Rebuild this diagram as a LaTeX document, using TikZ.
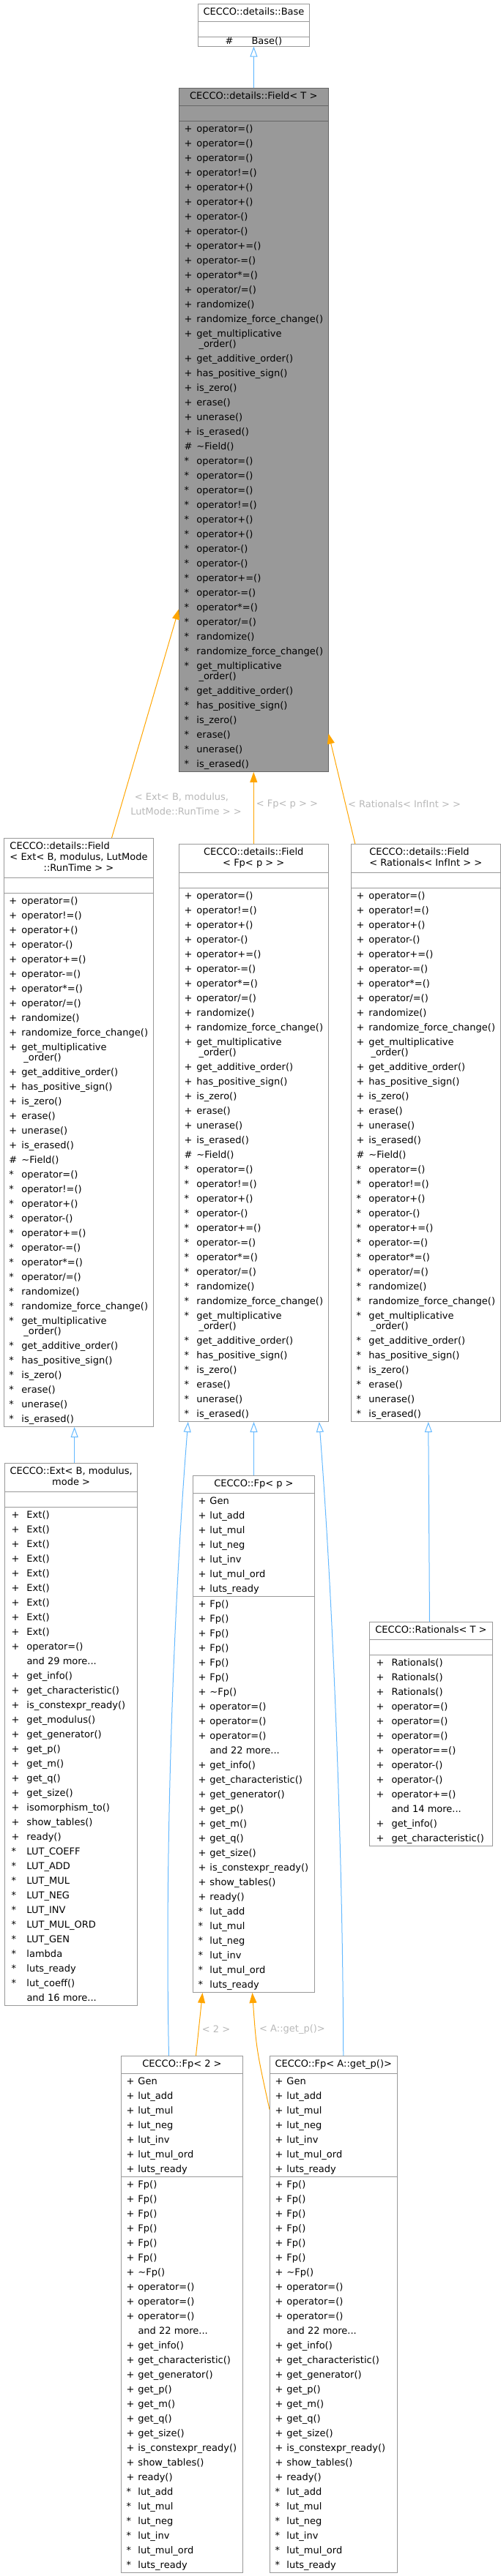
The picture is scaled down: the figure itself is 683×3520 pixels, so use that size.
\documentclass[tikz,border=0pt]{standalone}
\usepackage{fontspec}
\setmainfont{DejaVu Sans}
\usetikzlibrary{arrows.meta, shapes.multipart}

\definecolor{clsline}{HTML}{999999}
\definecolor{curline}{HTML}{666666}
\definecolor{curfill}{HTML}{999999}
\definecolor{inhblue}{HTML}{63B8FF}
\definecolor{tplorange}{HTML}{FFA500}
\definecolor{lblgray}{HTML}{B8B8B8}

\newlength{\pfxw}
\newcommand{\ttl}[2][c]{\raisebox{0pt}[\dimexpr\height+4pt\relax][\dimexpr\depth+4pt\relax]{\fontsize{13}{15}\selectfont\begin{tabular}{@{}#1@{}}#2\end{tabular}}}
\newcommand{\mb}[2]{\makebox[\pfxw][l]{#1}#2\\}
\newcommand{\mw}[3]{\makebox[\pfxw][l]{#1}#2\\[-6pt]\hspace{\pfxw}\hspace{3pt}#3\\}
\newcommand{\mlist}[1]{\begin{tabular}{@{}l@{}}#1\end{tabular}}

% member lists of the field classes
\newcommand{\fieldT}[1]{\mb{#1}{operator=()}\mb{#1}{operator=()}\mb{#1}{operator=()}\mb{#1}{operator!=()}%
\mb{#1}{operator+()}\mb{#1}{operator+()}\mb{#1}{operator-()}\mb{#1}{operator-()}%
\mb{#1}{operator+=()}\mb{#1}{operator-=()}\mb{#1}{operator*=()}\mb{#1}{operator/=()}%
\mb{#1}{randomize()}\mb{#1}{randomize\_force\_change()}\mw{#1}{get\_multiplicative}{\_order()}%
\mb{#1}{get\_additive\_order()}\mb{#1}{has\_positive\_sign()}\mb{#1}{is\_zero()}%
\mb{#1}{erase()}\mb{#1}{unerase()}\mb{#1}{is\_erased()}}
\newcommand{\fieldD}[1]{\mb{#1}{operator=()}\mb{#1}{operator!=()}%
\mb{#1}{operator+()}\mb{#1}{operator-()}%
\mb{#1}{operator+=()}\mb{#1}{operator-=()}\mb{#1}{operator*=()}\mb{#1}{operator/=()}%
\mb{#1}{randomize()}\mb{#1}{randomize\_force\_change()}\mw{#1}{get\_multiplicative}{\_order()}%
\mb{#1}{get\_additive\_order()}\mb{#1}{has\_positive\_sign()}\mb{#1}{is\_zero()}%
\mb{#1}{erase()}\mb{#1}{unerase()}\mb{#1}{is\_erased()}}
\newcommand{\luts}[1]{\mb{#1}{lut\_add}\mb{#1}{lut\_mul}\mb{#1}{lut\_neg}\mb{#1}{lut\_inv}\mb{#1}{lut\_mul\_ord}\mb{#1}{luts\_ready}}
\newcommand{\fpattrs}{\mlist{\mb{+}{Gen}\luts{+}}}
\newcommand{\fpmethods}{\mlist{\mb{+}{Fp()}\mb{+}{Fp()}\mb{+}{Fp()}\mb{+}{Fp()}\mb{+}{Fp()}\mb{+}{Fp()}%
\mb{+}{\textasciitilde Fp()}\mb{+}{operator=()}\mb{+}{operator=()}\mb{+}{operator=()}\mb{}{and 22 more...}%
\mb{+}{get\_info()}\mb{+}{get\_characteristic()}\mb{+}{get\_generator()}\mb{+}{get\_p()}%
\mb{+}{get\_m()}\mb{+}{get\_q()}\mb{+}{get\_size()}\mb{+}{is\_constexpr\_ready()}%
\mb{+}{show\_tables()}\mb{+}{ready()}\luts{*}}}

\tikzset{
  cls/.style={rectangle split, rectangle split parts=3, rectangle split part align={center,left,left},
    draw=clsline, fill=white, line width=1pt, inner xsep=7pt, inner ysep=0pt, anchor=north west,
    font=\fontsize{13}{20}\selectfont},
  curcls/.style={cls, draw=curline, fill=curfill},
  pfx/.style={execute at begin node={\global\pfxw=#1}},
  inh/.style={draw=inhblue, line width=1pt, -{Triangle[open, length=14pt, width=10pt]}},
  tpl/.style={draw=tplorange, line width=1pt, -{Triangle[length=14pt, width=10pt]}},
  lbl/.style={text=lblgray, font=\fontsize{13}{20}\selectfont, align=center}
}

\begin{document}
\begin{tikzpicture}[x=1pt, y=-1pt]
  \useasboundingbox (0,0) rectangle (683,3520);

  \node[cls, minimum width=151pt, rectangle split part align={center,center,center}] (Base) at (270,5)
    {\ttl{CECCO::details::Base}\nodepart{two}\strut\nodepart{three}\#\hspace{25pt}Base()};

  \node[curcls, pfx=17pt, minimum width=203pt] (FieldT) at (244,120)
    {\ttl{CECCO::details::Field< T >}\nodepart{two}\strut
     \nodepart{three}\mlist{\fieldT{+}\mb{\#}{\textasciitilde Field()}\fieldT{*}}};

  \node[cls, pfx=17pt, minimum width=204pt] (FieldExt) at (5,1145)
    {\ttl[l]{CECCO::details::Field\\< Ext< B, modulus, LutMode\\\multicolumn{1}{@{}c@{}}{::RunTime > >}}\nodepart{two}\strut
     \nodepart{three}\mlist{\fieldD{+}\mb{\#}{\textasciitilde Field()}\fieldD{*}}};

  \node[cls, pfx=17pt, minimum width=203pt] (FieldFp) at (244,1153)
    {\ttl{CECCO::details::Field\\< Fp< p > >}\nodepart{two}\strut
     \nodepart{three}\mlist{\fieldD{+}\mb{\#}{\textasciitilde Field()}\fieldD{*}}};

  \node[cls, pfx=17pt, minimum width=203pt] (FieldRat) at (479,1153)
    {\ttl[l]{CECCO::details::Field\\< Rationals< InfInt > >}\nodepart{two}\strut
     \nodepart{three}\mlist{\fieldD{+}\mb{\#}{\textasciitilde Field()}\fieldD{*}}};

  \node[cls, pfx=23pt, minimum width=181pt] (Ext) at (6,1999)
    {\ttl{CECCO::Ext< B, modulus,\\mode >}\nodepart{two}\strut
     \nodepart{three}\mlist{\mb{\hspace{2pt}+}{Ext()}\mb{\hspace{2pt}+}{Ext()}\mb{\hspace{2pt}+}{Ext()}%
      \mb{\hspace{2pt}+}{Ext()}\mb{\hspace{2pt}+}{Ext()}\mb{\hspace{2pt}+}{Ext()}\mb{\hspace{2pt}+}{Ext()}%
      \mb{\hspace{2pt}+}{Ext()}\mb{\hspace{2pt}+}{Ext()}\mb{\hspace{2pt}+}{operator=()}\mb{}{and 29 more...}%
      \mb{\hspace{2pt}+}{get\_info()}\mb{\hspace{2pt}+}{get\_characteristic()}\mb{\hspace{2pt}+}{is\_constexpr\_ready()}%
      \mb{\hspace{2pt}+}{get\_modulus()}\mb{\hspace{2pt}+}{get\_generator()}\mb{\hspace{2pt}+}{get\_p()}%
      \mb{\hspace{2pt}+}{get\_m()}\mb{\hspace{2pt}+}{get\_q()}\mb{\hspace{2pt}+}{get\_size()}%
      \mb{\hspace{2pt}+}{isomorphism\_to()}\mb{\hspace{2pt}+}{show\_tables()}\mb{\hspace{2pt}+}{ready()}%
      \mb{\hspace{2pt}*}{LUT\_COEFF}\mb{\hspace{2pt}*}{LUT\_ADD}\mb{\hspace{2pt}*}{LUT\_MUL}\mb{\hspace{2pt}*}{LUT\_NEG}%
      \mb{\hspace{2pt}*}{LUT\_INV}\mb{\hspace{2pt}*}{LUT\_MUL\_ORD}\mb{\hspace{2pt}*}{LUT\_GEN}\mb{\hspace{2pt}*}{lambda}%
      \mb{\hspace{2pt}*}{luts\_ready}\mb{\hspace{2pt}*}{lut\_coeff()}\mb{}{and 16 more...}}};

  \node[cls, pfx=16pt, minimum width=166pt] (FpP) at (263,2016)
    {\ttl{CECCO::Fp< p >}\nodepart{two}\fpattrs\nodepart{three}\fpmethods};

  \node[cls, pfx=23pt, minimum width=168pt] (Rat) at (504,2216)
    {\ttl{CECCO::Rationals< T >}\nodepart{two}\strut
     \nodepart{three}\mlist{\mb{\hspace{2pt}+}{Rationals()}\mb{\hspace{2pt}+}{Rationals()}\mb{\hspace{2pt}+}{Rationals()}%
      \mb{\hspace{2pt}+}{operator=()}\mb{\hspace{2pt}+}{operator=()}\mb{\hspace{2pt}+}{operator=()}%
      \mb{\hspace{2pt}+}{operator==()}\mb{\hspace{2pt}+}{operator-()}\mb{\hspace{2pt}+}{operator-()}%
      \mb{\hspace{2pt}+}{operator+=()}\mb{}{and 14 more...}\mb{\hspace{2pt}+}{get\_info()}%
      \mb{\hspace{2pt}+}{get\_characteristic()}}};

  \node[cls, pfx=16pt, minimum width=166pt] (Fp2) at (165,2809)
    {\ttl{CECCO::Fp< 2 >}\nodepart{two}\fpattrs\nodepart{three}\fpmethods};

  \node[cls, pfx=16pt, minimum width=173pt] (FpA) at (368,2809)
    {\ttl{CECCO::Fp< A::get\_p()>}\nodepart{two}\fpattrs\nodepart{three}\fpmethods};

  % inheritance
  \draw[inh] (FieldT.north) -- (Base.south);
  \draw[tpl] ([xshift=45pt]FieldExt.north) -- ([yshift=-245pt]FieldT.west);
  \draw[tpl] (FieldFp.north) -- (FieldT.south);
  \draw[tpl] ([xshift=-96.5pt]FieldRat.north) -- ([yshift=-415pt]FieldT.east);
  \draw[inh] ([xshift=4.5pt]Ext.north) -- ([xshift=4.5pt]Ext.north |- FieldExt.south);
  \draw[inh] (FpP.north) -- (FpP.north |- FieldFp.south);
  \draw[inh] ([xshift=-18pt]Fp2.north) .. controls (224,2500) and (240,2150) .. ([xshift=-89.5pt]FieldFp.south);
  \draw[inh] ([xshift=13.5pt]FpA.north) .. controls (468,2500) and (452,2150) .. ([xshift=89.5pt]FieldFp.south);
  \draw[inh] ([xshift=-2pt]Rat.north) -- ([xshift=3.5pt]FieldRat.south);
  \draw[tpl] ([xshift=19pt]Fp2.north) -- ([xshift=-70pt]FpP.south);
  \draw[tpl] ([yshift=280pt]FpA.west) .. controls (350,2800) .. ([xshift=-2pt]FpP.south);

  % template labels
  \node[lbl] (lExt) at (248,1099) {< Ext< B, modulus,\\\hspace{12pt}LutMode::RunTime > >};
  \node[lbl] (lFp) at (392,1099) {< Fp< p > >};
  \node[lbl] (lRat) at (552,1099) {< Rationals< InfInt > >};
  \node[lbl] (lTwo) at (295,2773) {< 2 >};
  \node[lbl] (lA) at (399,2773) {< A::get\_p()>};
\end{tikzpicture}
\end{document}
